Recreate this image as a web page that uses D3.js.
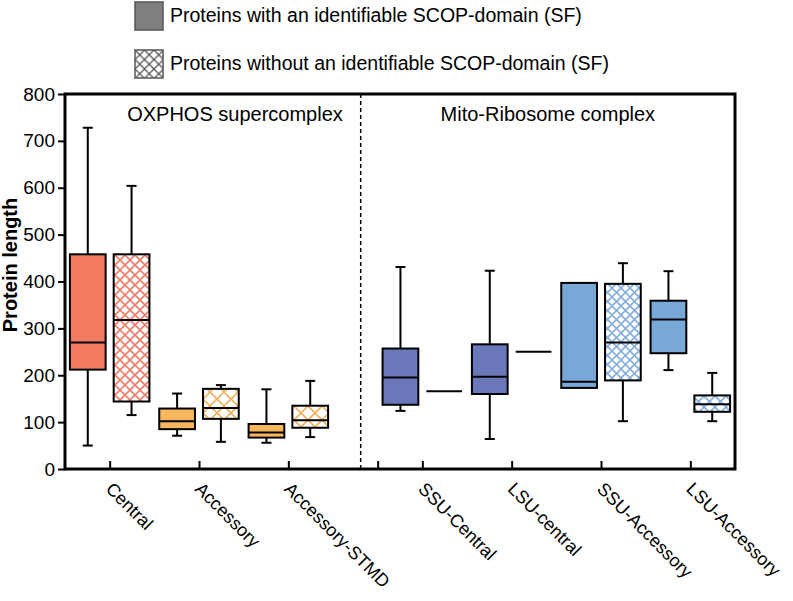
<!DOCTYPE html>
<html>
<head>
<meta charset="utf-8">
<script src="https://cdn.jsdelivr.net/npm/d3@7"></script>
<style>
  body { margin: 0; background: #fff; }
  svg { font-family: Arial, "Liberation Sans", sans-serif; }
</style>
</head>
<body>
<script>
// categories along the x axis
var categories = ["Central", "Accessory", "Accessory-STMD", "SSU-Central", "LSU-central", "SSU-Accessory", "LSU-Accessory"];
var complexOf = ["OXPHOS", "OXPHOS", "OXPHOS", "Mito", "Mito", "Mito", "Mito"];

// box stats [min, q1, median, q3, max]
var withSF = [
  [50, 212, 270, 458, 728],
  [71, 85, 102, 129, 161],
  [56, 67, 78, 96, 170],
  [124, 137, 195, 257, 431],
  [64, 160, 197, 266, 423],
  [173, 173, 186, 397, 397],
  [211, 247, 319, 359, 422]
];
var withoutSF = [
  [115, 144, 318, 458, 604],
  [58, 107, 130, 171, 179],
  [68, 88, 104, 135, 188],
  [166, 166, 166, 166, 166],
  [250, 250, 250, 250, 250],
  [102, 189, 270, 395, 439],
  [102, 122, 138, 157, 205]
];

var yTicks = [0, 100, 200, 300, 400, 500, 600, 700, 800];
var legendLabels = ["Proteins with an identifiable SCOP-domain (SF)", "Proteins without an identifiable SCOP-domain (SF)"];
var panelLabels = ["OXPHOS supercomplex", "Mito-Ribosome complex"];

var fillColors = ["#F27B62", "#F8B65E", "#F8B65E", "#6A78B9", "#6A78B9", "#78A8D8", "#78A8D8"];
var hatchColors = ["#EE7C68", "#F1B25E", "#F1B25E", "#6A78B9", "#6A78B9", "#86AEDC", "#86AEDC"];
var hatchSizes = [10, 14, 14, 10, 10, 9, 11];

var svg = d3.select("body").append("svg")
  .attr("width", 793)
  .attr("height", 601);

var plotL = 65, plotR = 735, plotT = 94, plotB = 469;

// slot of a category: mito group sits half a step further right
function slot(i) { return complexOf[i] == "Mito" ? i + 0.5 : i; }

var x = d3.scaleLinear().domain([-0.5, 7]).range([plotL, plotR]);
var y = d3.scaleLinear().domain([0, 800]).range([plotB, plotT]);

var defs = svg.append("defs");
hatchColors.forEach(function(c, i) {
  var s = hatchSizes[i];
  var p = defs.append("pattern")
    .attr("id", "hatch" + i)
    .attr("patternUnits", "userSpaceOnUse")
    .attr("width", s).attr("height", s);
  p.append("rect").attr("width", s).attr("height", s).attr("fill", "#fff");
  p.append("path")
    .attr("d", "M0,0L" + s + "," + s + "M" + s + ",0L0," + s)
    .attr("stroke", c).attr("stroke-width", 1.6);
});
var lp = defs.append("pattern")
  .attr("id", "hatchLegend")
  .attr("patternUnits", "userSpaceOnUse")
  .attr("x", 135).attr("y", 50)
  .attr("width", 9.5).attr("height", 9.5);
lp.append("rect").attr("width", 9.5).attr("height", 9.5).attr("fill", "#fff");
lp.append("path").attr("d", "M0,0L9.5,9.5M9.5,0L0,9.5").attr("stroke", "#555").attr("stroke-width", 1.3);

// legend
var legend = svg.append("g");
legend.append("rect").attr("x", 135).attr("y", 2).attr("width", 28).attr("height", 28)
  .attr("fill", "#7f7f7f").attr("stroke", "#555").attr("stroke-width", 1.5);
legend.append("rect").attr("x", 135).attr("y", 50).attr("width", 28).attr("height", 28)
  .attr("fill", "url(#hatchLegend)").attr("stroke", "#555").attr("stroke-width", 1.5);
legend.selectAll("text.leg")
  .data(legendLabels)
  .enter().append("text")
  .attr("class", "leg")
  .attr("x", 170)
  .attr("y", function(d, i) { return 22 + i * 48; })
  .attr("font-size", 19.5)
  .text(function(d) { return d; });

// y axis
var yAxis = svg.append("g")
  .attr("transform", "translate(" + plotL + ",0)")
  .call(d3.axisLeft(y).tickValues(yTicks).tickSize(7).tickPadding(3));
yAxis.select(".domain").remove();
yAxis.selectAll("line").attr("stroke-width", 2);
yAxis.selectAll("text").attr("font-size", 19).attr("font-family", "Arial, 'Liberation Sans', sans-serif").attr("fill", "#000");

svg.append("text")
  .attr("transform", "translate(17,265) rotate(-90)")
  .attr("text-anchor", "middle")
  .attr("font-size", 20)
  .attr("font-weight", "bold")
  .text("Protein length");

// x axis, ticks point inward
var tickVals = categories.map(function(d, i) { return slot(i); });
tickVals.splice(3, 0, 3);
var xAxis = svg.append("g")
  .attr("transform", "translate(0," + plotB + ")")
  .call(d3.axisBottom(x).tickValues(tickVals).tickSize(-8).tickFormat(""));
xAxis.select(".domain").remove();
xAxis.selectAll("line").attr("stroke-width", 2);

svg.selectAll("text.xlab")
  .data(categories)
  .enter().append("text")
  .attr("class", "xlab")
  .attr("transform", function(d, i) { return "translate(" + (x(slot(i)) - 5) + ",490) rotate(45)"; })
  .attr("font-size", 18)
  .text(function(d) { return d; });

// divider between the two complexes
svg.append("line")
  .attr("x1", x(2.81)).attr("x2", x(2.81))
  .attr("y1", plotT).attr("y2", plotB)
  .attr("stroke", "#000").attr("stroke-width", 1.5)
  .attr("stroke-dasharray", "4,3");

svg.append("text").attr("x", 235).attr("y", 121).attr("text-anchor", "middle")
  .attr("font-size", 20).text(panelLabels[0]);
svg.append("text").attr("x", (x(2.81) + plotR) / 2).attr("y", 121).attr("text-anchor", "middle")
  .attr("font-size", 20).text(panelLabels[1]);

// boxes
var boxW = x(0.4) - x(0);
var off = x(0.245) - x(0);
var capW = 10;

function drawBox(stats, i, hatched) {
  var cx = x(slot(i)) + (hatched ? off : -off);
  var g = svg.append("g");
  if (stats[4] > stats[3]) {
    g.append("line").attr("x1", cx).attr("x2", cx).attr("y1", y(stats[3])).attr("y2", y(stats[4]));
    g.append("line").attr("x1", cx - capW / 2).attr("x2", cx + capW / 2).attr("y1", y(stats[4])).attr("y2", y(stats[4]));
  }
  if (stats[0] < stats[1]) {
    g.append("line").attr("x1", cx).attr("x2", cx).attr("y1", y(stats[1])).attr("y2", y(stats[0]));
    g.append("line").attr("x1", cx - capW / 2).attr("x2", cx + capW / 2).attr("y1", y(stats[0])).attr("y2", y(stats[0]));
  }
  g.append("rect")
    .attr("x", cx - boxW / 2)
    .attr("y", y(stats[3]))
    .attr("width", boxW)
    .attr("height", y(stats[1]) - y(stats[3]))
    .attr("fill", hatched ? "url(#hatch" + i + ")" : fillColors[i]);
  g.append("line").attr("x1", cx - boxW / 2).attr("x2", cx + boxW / 2)
    .attr("y1", y(stats[2])).attr("y2", y(stats[2]));
  g.selectAll("line").attr("stroke", "#000").attr("stroke-width", 2);
  g.select("rect").attr("stroke", "#000").attr("stroke-width", 2);
}

withSF.forEach(function(d, i) { drawBox(d, i, false); });
withoutSF.forEach(function(d, i) { drawBox(d, i, true); });

// frame
svg.append("rect")
  .attr("x", plotL).attr("y", plotT)
  .attr("width", plotR - plotL).attr("height", plotB - plotT)
  .attr("fill", "none").attr("stroke", "#000").attr("stroke-width", 3);
</script>
</body>
</html>
